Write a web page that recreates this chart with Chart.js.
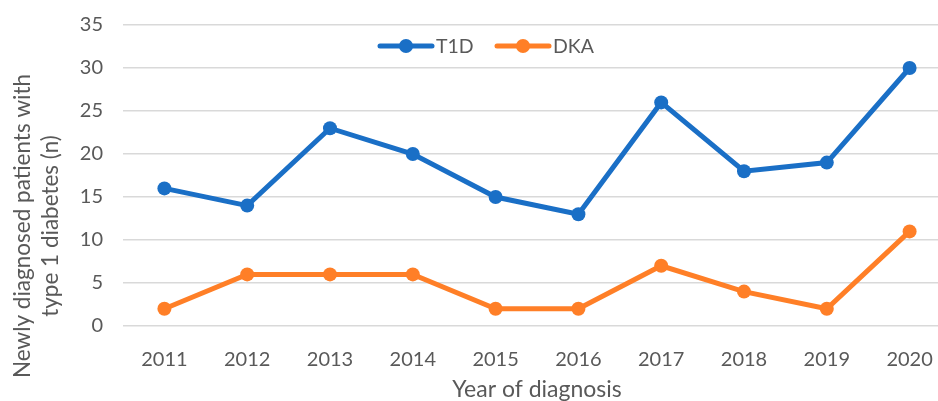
<!DOCTYPE html>
<html><head><meta charset="utf-8">
<script src="https://cdn.jsdelivr.net/npm/chart.js@4/dist/chart.umd.min.js"></script>
<style>html,body{margin:0;padding:0;overflow:hidden;background:#fff}#wrap{width:958px;height:401px;position:relative}</style>
</head><body><div id="wrap"><canvas id="c" width="958" height="401"></canvas></div>
<script>
const years = ['2011','2012','2013','2014','2015','2016','2017','2018','2019','2020'];
const t1d = [16,14,23,20,15,13,26,18,19,30];
const dka = [2,6,6,6,2,2,7,4,2,11];
const seriesNames = ['T1D','DKA'];
const yTitle = ['Newly diagnosed patients with','type 1 diabetes (n)'];
const xTitle = 'Year of diagnosis';
const BLUE = '#1a6fc6', ORANGE = '#ff7f27', TXT = '#595959', FONT = 'Lato';

const overlay = {
  id: 'overlay',
  afterDraw(chart) {
    const ctx = chart.ctx;
    ctx.save();
    ctx.fillStyle = TXT;
    ctx.font = '22.5px ' + FONT;
    ctx.textAlign = 'center';
    ctx.textBaseline = 'middle';
    ctx.save();
    ctx.translate(23, 226);
    ctx.rotate(-Math.PI / 2);
    ctx.fillText(yTitle[0], 0, 0);
    ctx.fillText(yTitle[1], 0, 28);
    ctx.restore();
    ctx.font = '23px ' + FONT;
    ctx.fillText(xTitle, 537, 390);
    const items = [{x: 380, c: BLUE, t: seriesNames[0]}, {x: 497, c: ORANGE, t: seriesNames[1]}];
    ctx.font = '19.5px ' + FONT;
    ctx.textAlign = 'left';
    items.forEach(it => {
      ctx.strokeStyle = it.c; ctx.lineWidth = 5; ctx.lineCap = 'round';
      ctx.beginPath(); ctx.moveTo(it.x, 46); ctx.lineTo(it.x + 52, 46); ctx.stroke();
      ctx.fillStyle = it.c;
      ctx.beginPath(); ctx.arc(it.x + 26, 46, 7, 0, Math.PI * 2); ctx.fill();
      ctx.fillStyle = TXT;
      ctx.fillText(it.t, it.x + 56, 47);
    });
    ctx.restore();
  }
};

new Chart(document.getElementById('c'), {
  type: 'line',
  data: {
    labels: years,
    datasets: [
      {label: seriesNames[0], data: t1d, borderColor: BLUE, backgroundColor: BLUE, borderWidth: 5, pointRadius: 7, pointBackgroundColor: BLUE, pointBorderWidth: 0, tension: 0},
      {label: seriesNames[1], data: dka, borderColor: ORANGE, backgroundColor: ORANGE, borderWidth: 5, pointRadius: 7, pointBackgroundColor: ORANGE, pointBorderWidth: 0, tension: 0}
    ]
  },
  options: {
    responsive: false,
    animation: false,
    devicePixelRatio: 1,
    layout: {padding: {top: 25, right: 2, bottom: 0, left: 0}},
    plugins: {legend: {display: false}, tooltip: {enabled: false}},
    scales: {
      x: {
        offset: true,
        grid: {display: false},
        border: {display: false},
        ticks: {color: TXT, font: {family: FONT, size: 20}, padding: 14, maxRotation: 0},
        afterFit(s) { s.height = 75; s.paddingLeft = 0; s.paddingRight = 0; }
      },
      y: {
        min: 0, max: 35,
        ticks: {stepSize: 5, color: TXT, font: {family: FONT, size: 20}, padding: 20},
        grid: {color: '#d9d9d9', lineWidth: 1.5, drawTicks: false},
        border: {display: false},
        afterFit(s) { s.width = 123; s.paddingTop = 0; s.paddingBottom = 0; }
      }
    }
  },
  plugins: [overlay]
});
</script></body></html>
